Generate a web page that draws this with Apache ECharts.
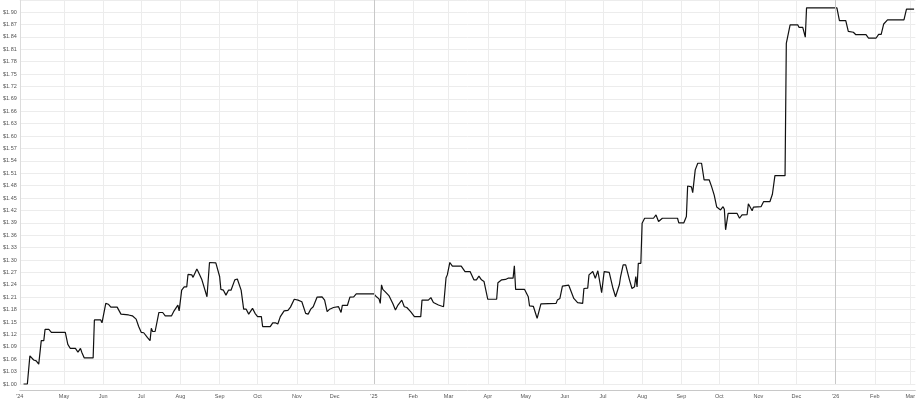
<!DOCTYPE html>
<html>
<head>
<meta charset="utf-8">
<script src="https://cdn.jsdelivr.net/npm/echarts@6/dist/echarts.min.js"></script>
<style>
html,body{margin:0;padding:0;background:#fff;}
#chart{width:918px;height:405px;}
</style>
</head>
<body>
<div id="chart"></div>
<script>
const dates = [
'2024-03-30','2024-04-02','2024-04-04','2024-04-05','2024-04-07','2024-04-09','2024-04-11','2024-04-12','2024-04-13','2024-04-15',
'2024-04-16','2024-04-19','2024-04-21','2024-05-02','2024-05-04','2024-05-06','2024-05-10','2024-05-12','2024-05-14','2024-05-15',
'2024-05-17','2024-05-24','2024-05-25','2024-05-30','2024-05-31','2024-06-03','2024-06-05','2024-06-07','2024-06-12','2024-06-13',
'2024-06-15','2024-06-21','2024-06-24','2024-06-27','2024-06-29','2024-07-01','2024-07-03','2024-07-04','2024-07-06','2024-07-08',
'2024-07-09','2024-07-10','2024-07-12','2024-07-15','2024-07-18','2024-07-20','2024-07-25','2024-07-27','2024-07-30','2024-07-31',
'2024-08-02','2024-08-04','2024-08-06','2024-08-07','2024-08-10','2024-08-11','2024-08-14','2024-08-15','2024-08-18','2024-08-19',
'2024-08-22','2024-08-24','2024-08-29','2024-08-30','2024-09-01','2024-09-02','2024-09-04','2024-09-06','2024-09-08','2024-09-10',
'2024-09-13','2024-09-15','2024-09-18','2024-09-20','2024-09-22','2024-09-24','2024-09-25','2024-09-27','2024-09-29','2024-10-01',
'2024-10-04','2024-10-05','2024-10-11','2024-10-13','2024-10-15','2024-10-17','2024-10-19','2024-10-22','2024-10-25','2024-10-27',
'2024-10-30','2024-11-02','2024-11-05','2024-11-08','2024-11-10','2024-11-12','2024-11-14','2024-11-17','2024-11-21','2024-11-23',
'2024-11-25','2024-11-27','2024-11-30','2024-12-04','2024-12-06','2024-12-07','2024-12-11','2024-12-13','2024-12-16','2024-12-18',
'2025-01-01','2025-01-03','2025-01-05','2025-01-06','2025-01-07','2025-01-08','2025-01-10','2025-01-13','2025-01-16','2025-01-18',
'2025-01-20','2025-01-21','2025-01-23','2025-01-25','2025-01-27','2025-01-30','2025-02-02','2025-02-07','2025-02-08','2025-02-13',
'2025-02-15','2025-02-17','2025-02-21','2025-02-25','2025-02-26','2025-02-27','2025-02-28','2025-03-02','2025-03-04','2025-03-11',
'2025-03-14','2025-03-18','2025-03-21','2025-03-23','2025-03-25','2025-03-27','2025-03-29','2025-04-01','2025-04-08','2025-04-09',
'2025-04-12','2025-04-13','2025-04-15','2025-04-17','2025-04-21','2025-04-22','2025-04-23','2025-04-30','2025-05-03','2025-05-04',
'2025-05-07','2025-05-10','2025-05-13','2025-05-25','2025-05-26','2025-05-28','2025-05-30','2025-06-04','2025-06-08','2025-06-11',
'2025-06-15','2025-06-16','2025-06-19','2025-06-20','2025-06-23','2025-06-25','2025-06-27','2025-06-28','2025-06-30','2025-07-01',
'2025-07-02','2025-07-06','2025-07-09','2025-07-11','2025-07-14','2025-07-15','2025-07-17','2025-07-19','2025-07-22','2025-07-24',
'2025-07-26','2025-07-27','2025-07-28','2025-07-29','2025-07-31','2025-08-01','2025-08-03','2025-08-10','2025-08-12','2025-08-14',
'2025-08-17','2025-08-29','2025-08-30','2025-09-03','2025-09-05','2025-09-06','2025-09-07','2025-09-09','2025-09-10','2025-09-12',
'2025-09-14','2025-09-17','2025-09-19','2025-09-23','2025-09-25','2025-09-27','2025-09-29','2025-10-02','2025-10-04','2025-10-05',
'2025-10-06','2025-10-08','2025-10-15','2025-10-17','2025-10-19','2025-10-23','2025-10-24','2025-10-27','2025-10-28','2025-11-03',
'2025-11-05','2025-11-10','2025-11-12','2025-11-14','2025-11-22','2025-11-23','2025-11-24','2025-11-26','2025-12-02','2025-12-03',
'2025-12-06','2025-12-08','2025-12-09','2026-01-02','2026-01-04','2026-01-09','2026-01-11','2026-01-15','2026-01-17','2026-01-25',
'2026-01-27','2026-02-02','2026-02-04','2026-02-06','2026-02-08','2026-02-11','2026-02-24','2026-02-26','2026-03-04'
];
const prices = [
1.000,1.000,1.068,1.066,1.058,1.056,1.048,1.048,1.105,1.105,
1.132,1.132,1.125,1.125,1.096,1.086,1.086,1.077,1.086,1.077,
1.063,1.063,1.155,1.155,1.148,1.195,1.193,1.186,1.186,1.190,
1.169,1.167,1.165,1.157,1.139,1.125,1.124,1.127,1.112,1.105,
1.135,1.127,1.127,1.173,1.173,1.165,1.165,1.177,1.191,1.177,
1.227,1.235,1.235,1.265,1.264,1.258,1.278,1.272,1.252,1.250,
1.211,1.294,1.293,1.292,1.260,1.229,1.227,1.215,1.227,1.227,
1.252,1.254,1.227,1.181,1.181,1.169,1.169,1.183,1.171,1.163,
1.163,1.139,1.139,1.148,1.148,1.145,1.163,1.177,1.178,1.186,
1.205,1.203,1.199,1.171,1.169,1.181,1.187,1.210,1.211,1.203,
1.175,1.181,1.185,1.187,1.173,1.190,1.190,1.210,1.211,1.218,
1.218,1.211,1.206,1.195,1.240,1.229,1.223,1.213,1.194,1.179,
1.191,1.189,1.203,1.187,1.185,1.175,1.163,1.163,1.203,1.203,
1.209,1.197,1.191,1.187,1.187,1.257,1.264,1.294,1.285,1.285,
1.272,1.272,1.252,1.252,1.261,1.252,1.248,1.205,1.205,1.245,
1.252,1.256,1.253,1.256,1.256,1.286,1.229,1.229,1.211,1.189,
1.188,1.159,1.194,1.195,1.203,1.207,1.237,1.239,1.207,1.197,
1.195,1.231,1.232,1.264,1.272,1.256,1.274,1.272,1.221,1.221,
1.272,1.270,1.231,1.211,1.240,1.260,1.288,1.288,1.252,1.231,
1.235,1.260,1.235,1.292,1.292,1.389,1.401,1.401,1.409,1.393,
1.401,1.401,1.390,1.390,1.405,1.479,1.479,1.477,1.463,1.518,
1.534,1.534,1.494,1.494,1.477,1.457,1.428,1.421,1.429,1.423,
1.373,1.413,1.413,1.401,1.409,1.410,1.436,1.419,1.428,1.429,
1.441,1.441,1.459,1.504,1.504,1.824,1.826,1.869,1.869,1.863,
1.863,1.839,1.910,1.910,1.879,1.879,1.853,1.851,1.845,1.845,
1.837,1.837,1.846,1.846,1.871,1.881,1.881,1.907,1.907
];
const xStart = '2024-03-27';
const xEnd = '2026-03-05';
const tickDates = ['2024-05-01','2024-06-01','2024-07-01','2024-08-01','2024-09-01','2024-10-01','2024-11-01','2024-12-01',
  '2025-01-01','2025-02-01','2025-03-01','2025-04-01','2025-05-01','2025-06-01','2025-07-01','2025-08-01','2025-09-01',
  '2025-10-01','2025-11-01','2025-12-01','2026-01-01','2026-02-01','2026-03-01'];
const labelDates = [xStart].concat(tickDates);
const labelTexts = ["'24",'May','Jun','Jul','Aug','Sep','Oct','Nov','Dec',"'25",'Feb','Mar','Apr','May','Jun','Jul','Aug','Sep','Oct','Nov','Dec',"'26",'Feb','Mar'];
const yearLines = ['2025-01-01','2026-01-01'];
const yMin = 1.00, yMax = 1.929, yStep = 0.03;

const P = s => Date.UTC(+s.slice(0,4), +s.slice(5,7) - 1, +s.slice(8,10));
const labelVals = labelDates.map(P);
const tickVals = tickDates.map(P);

const chart = echarts.init(document.getElementById('chart'), null, {renderer: 'canvas'});
chart.setOption({
  animation: false,
  backgroundColor: '#fff',
  grid: {left: 18, right: 1, top: 0, bottom: 21, containLabel: false},
  xAxis: {
    type: 'value',
    min: P(xStart), max: P(xEnd),
    offset: 6,
    axisLine: {show: true, lineStyle: {color: '#c8c8c8', width: 1}},
    axisTick: {show: false, customValues: tickVals},
    axisLabel: {
      customValues: labelVals,
      hideOverlap: false,
      fontSize: 5.5, color: '#555', fontFamily: 'Liberation Sans, Arial, sans-serif',
      margin: 3,
      formatter: function (v) {
        const i = labelVals.indexOf(v);
        return i >= 0 ? labelTexts[i] : '';
      }
    },
    splitLine: {show: true, lineStyle: {color: '#ececec', width: 1}}
  },
  yAxis: {
    type: 'value',
    min: yMin, max: yMax, interval: yStep,
    axisLine: {show: true, lineStyle: {color: '#dcdcdc'}},
    axisTick: {show: false},
    axisLabel: {
      fontSize: 5.5, color: '#555', fontFamily: 'Liberation Sans, Arial, sans-serif',
      margin: 3, showMaxLabel: false,
      formatter: v => '$' + v.toFixed(2)
    },
    splitLine: {show: true, lineStyle: {color: '#ececec', width: 1}}
  },
  series: [{
    type: 'line',
    data: dates.map((d, i) => [P(d), prices[i]]),
    showSymbol: false,
    clip: false,
    lineStyle: {color: '#111', width: 1.2},
    itemStyle: {color: '#111'},
    markLine: {
      silent: true, symbol: 'none', label: {show: false},
      lineStyle: {color: '#c8c8c8', type: 'solid', width: 1},
      data: yearLines.map(d => ({xAxis: P(d)}))
    }
  }]
});
</script>
</body>
</html>
